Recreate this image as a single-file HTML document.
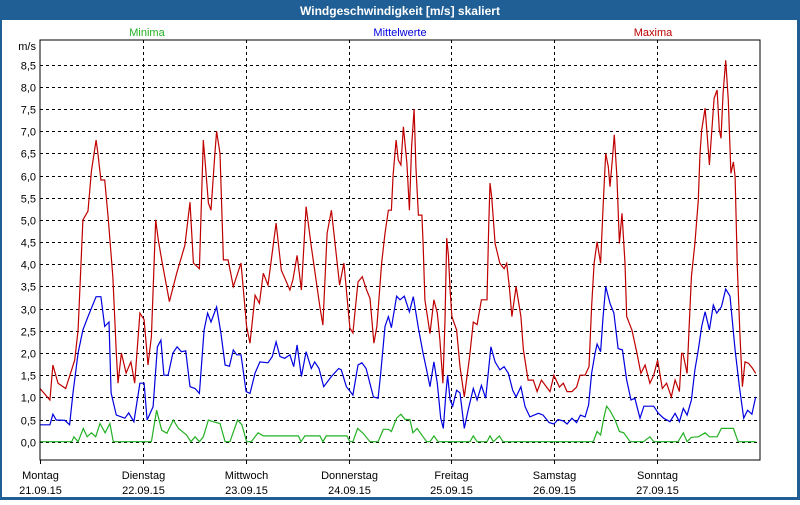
<!DOCTYPE html>
<html><head><meta charset="utf-8"><style>
html,body{margin:0;padding:0;background:#fff;}
body{width:800px;height:500px;overflow:hidden;font-family:"Liberation Sans",sans-serif;}
svg text{font-family:"Liberation Sans",sans-serif;}
</style></head><body>
<svg id="chart" width="800" height="500" xmlns="http://www.w3.org/2000/svg">
<rect x="0" y="0" width="800" height="500" fill="#1f5f96"/>
<rect x="2" y="20" width="795" height="477" fill="#ffffff"/>
<text x="400" y="15" fill="#ffffff" font-size="12" font-weight="bold" text-anchor="middle">Windgeschwindigkeit [m/s] skaliert</text>
<text x="147" y="36" fill="#22b022" font-size="11" text-anchor="middle">Minima</text>
<text x="400" y="36" fill="#0000dd" font-size="11" text-anchor="middle">Mittelwerte</text>
<text x="653" y="36" fill="#bb0000" font-size="11" text-anchor="middle">Maxima</text>
<text x="36" y="50" fill="#000" font-size="11" text-anchor="end">m/s</text>
<g id="grid"></g>
<g id="series"></g>
<rect x="40" y="40" width="720" height="420" fill="none" stroke="#000" stroke-width="1"/>
<g id="labels"></g>
</svg>
<script>
const yTicks = [0,0.5,1,1.5,2,2.5,3,3.5,4,4.5,5,5.5,6,6.5,7,7.5,8,8.5];
const yTickLabels = ["0,0","0,5","1,0","1,5","2,0","2,5","3,0","3,5","4,0","4,5","5,0","5,5","6,0","6,5","7,0","7,5","8,0","8,5"];
const dayNames = ["Montag","Dienstag","Mittwoch","Donnerstag","Freitag","Samstag","Sonntag"];
const dayDates = ["21.09.15","22.09.15","23.09.15","24.09.15","25.09.15","26.09.15","27.09.15"];

const maxH = [0,2.3,3,4.2,6,8.1,8.9,10,11.2,12,13.1,13.5,14.2,15.1,15.9,17,17.8,18.2,19,20.1,21.2,22.1,23.3,24.3,25.2,26,27,27.6,28.4,30.2,31.9,33.8,35,35.8,37.2,38.1,38.5,39.3,39.9,40.8,41.2,42,42.8,43.9,45.1,46.9,48.2,49,50.2,51.2,52.1,53.2,55.1,56.3,58.3,59,60,61,62.1,63.3,65.3,66,67,68,69.9,70.9,72.3,73,74.2,75.2,76.2,77,77.9,78.6,79.7,80.5,81.3,82,82.4,83.1,83.6,84.2,84.8,85.6,86.2,86.7,87.3,87.7,88.3,89.1,89.4,89.8,91,91.9,92.7,93.3,94,94.5,94.9,95.3,95.7,96.1,97.2,98,99,100.2,101.1,102,103,104.3,104.7,105,105.4,106.2,107.3,108.3,108.9,109.5,110.1,111.1,112.2,112.8,113.9,115.1,116,117,119,119.9,121.2,122.1,123,124.1,125.2,126,127.2,128.1,128.7,129.3,130,130.8,131.4,132,132.6,133,133.6,134,134.6,135.2,135.8,136.5,136.9,138.1,139.3,140.2,141.2,142.3,143.2,144.1,145.2,146.2,147.3,148.2,149.2,149.7,150,151,151.5,152,152.8,153.6,154,154.4,155.2,155.7,156.2,156.7,157.3,158,158.5,158.9,159.4,160,160.6,161.2,161.8,162.2,162.7,163.3,163.9,164.5,165.3,166.3,167];
const maxV = [1.2,0.94,1.73,1.32,1.2,1.84,2.52,5.0,5.2,6.1,6.8,6.5,5.9,5.9,5.07,3.7,2.0,1.32,2.0,1.55,1.8,1.32,2.9,2.75,1.73,2.37,5.0,4.55,4.1,3.16,3.8,4.43,5.4,4.03,3.9,6.8,6.35,5.38,5.22,6.5,7.0,6.5,4.1,4.1,3.5,4.03,2.6,2.22,3.3,3.12,3.8,3.53,4.93,3.87,3.42,3.65,4.2,3.42,5.3,4.4,3.04,2.63,4.7,5.22,3.53,4.03,2.56,2.45,3.6,3.72,3.42,3.23,2.22,2.6,4.02,4.7,5.22,5.22,6.01,6.8,6.35,6.24,7.1,6.28,5.22,6.65,7.5,6.2,5.11,5.11,4.47,3.2,2.44,3.2,2.9,2.29,1.32,2.74,4.59,4.2,3.42,2.82,2.52,1.69,1.01,1.88,2.7,2.64,3.2,3.2,4.85,5.83,5.52,4.47,4.02,3.9,4.02,3.5,2.82,3.5,2.82,2.07,1.39,1.39,1.13,1.39,1.13,1.5,1.23,1.32,1.13,1.13,1.23,1.5,1.5,1.69,3.04,4.02,4.51,4.02,5.3,6.5,6.2,5.75,6.43,6.92,5.98,4.47,5.15,4.02,2.82,2.52,1.99,1.54,1.73,1.32,1.5,1.84,1.2,1.32,1.01,1.39,1.13,1.99,1.99,1.54,2.67,3.72,4.47,5.45,6.5,7.03,7.52,6.88,6.24,6.95,7.74,7.93,7.03,6.84,7.86,8.6,7.7,6.05,6.31,5.98,3.95,2.44,1.24,1.8,1.77,1.65,1.54];

const meanH = [0,2.3,3,3.8,5.8,6.9,7.7,8.9,10,11.2,13.1,14.2,15.1,16.1,16.6,17.8,19.8,20.7,21.9,23.3,24.3,25,26.4,27.4,28.2,28.9,29.9,31,32,33,34,35,36.2,37.2,38.3,39.1,39.9,41.2,42.2,43.2,44.2,45.1,45.9,46.9,48.1,49,50.2,51.3,53.2,54.2,55.1,56,57.1,58.3,59.2,60,61,62.1,63.3,64.1,65.1,66.2,68,69.7,70.3,71.5,72.4,73,74.2,75.1,76.1,77.8,78.9,79.5,80.5,81.3,82,83.2,84,85,86.2,87.1,88.3,89.4,90.2,91,91.9,92.7,93.5,94.1,94.7,95.1,95.7,96.3,97.2,98,99,99.9,101.1,102,103,104,105.2,106.2,107.3,108.3,109.3,110.3,111.1,112.2,113.2,114.3,116.3,117.4,118.8,119.9,120.9,122.1,123,124.1,125.2,126.1,127.2,128,128.7,129.5,130,130.8,131.4,132,133,133.9,134.9,135.9,136.9,137.9,138.8,139.3,140,140.9,143.2,144.3,145.5,147,148.2,149.2,150.1,151,152,152.8,153.6,154.4,155.2,156.2,157.1,157.9,159,160,161,162.2,163.2,164.2,165.1,166.1,167];
const meanV = [0.38,0.38,0.62,0.49,0.48,0.38,1.1,2.0,2.52,2.82,3.27,3.27,2.6,2.7,1.1,0.6,0.53,0.65,0.45,1.32,1.32,0.49,0.79,2.14,2.29,1.5,1.5,2.0,2.14,2.03,2.05,1.24,1.2,1.09,2.52,2.9,2.7,3.04,2.45,1.73,1.7,2.07,1.96,1.96,1.13,1.09,1.55,1.8,1.78,1.92,2.25,1.92,1.88,1.96,1.69,2.18,1.47,2.03,1.65,1.8,1.65,1.24,1.47,1.65,1.62,1.24,1.13,1.05,1.73,1.78,1.65,1.01,0.98,1.54,2.6,2.82,2.57,3.28,3.2,3.28,2.93,3.27,2.56,1.99,1.62,1.24,1.8,1.32,0.53,0.3,1.09,1.5,0.94,0.8,1.16,1.1,0.3,0.71,1.2,0.94,1.27,0.98,2.14,1.8,1.62,1.69,1.54,1.16,1.01,1.24,0.79,0.56,0.64,0.6,0.43,0.4,0.5,0.47,0.4,0.53,0.43,0.6,0.56,0.83,1.54,1.99,2.2,2.03,2.82,3.5,3.12,2.9,2.1,2.07,1.39,0.94,0.98,0.79,0.53,0.8,0.8,0.64,0.53,0.45,0.64,0.45,0.75,0.6,0.94,1.62,2.07,2.6,2.93,2.52,3.08,2.9,3.04,3.44,3.28,2.07,1.24,0.53,0.71,0.62,1.01];

const minH = [0,7.4,7.9,8.9,10.1,11,12,13,14,15.2,16.3,17.1,26,27.2,28.4,29.6,31.1,32.3,34.2,35.2,36.2,37.2,38.1,39.3,40.4,42,43.2,44.3,46.1,47.1,48.2,49.3,50.9,52.1,60.3,60.9,61.8,65.3,66,66.8,71.6,72.3,73,74.1,75.4,77,78.9,80.1,81.3,82,83.2,84.2,85.2,86.3,87,88,89.4,90.2,91,91.9,92.9,100.3,101.1,102,104.3,105,105.8,107.2,108,129.1,130,130.8,131.6,132.2,133,134.2,135.2,136.2,137.7,140.8,142.3,143.2,148.9,150.1,151,152,153.6,155.2,156.2,158,159,161.8,162.9,167];
const minV = [0,0,0.11,0,0.3,0.11,0.2,0.11,0.41,0.2,0.41,0,0,0.71,0.26,0.19,0.49,0.3,0.15,0,0.11,0,0.11,0.49,0.45,0.41,0,0,0.49,0.38,0,0,0.2,0.13,0.13,0,0.13,0.13,0,0.13,0.13,0,0,0.3,0.19,0,0,0.28,0.28,0.23,0.53,0.62,0.5,0.5,0.2,0.3,0.11,0,0,0.13,0,0,0.13,0,0,0.13,0,0.13,0,0,0.23,0.15,0.56,0.8,0.7,0.49,0.23,0.2,0,0,0.11,0,0,0.2,0,0.1,0.11,0.2,0.11,0.11,0.3,0.3,0,0];

const NS = "http://www.w3.org/2000/svg";
const X0 = 40, X1 = 760, Y0 = 441.7, PER = 44.35, HOURS = 168;
function xScale(h){ return X0 + h * (X1 - X0) / HOURS; }
function yScale(v){ return Y0 - v * PER; }
function mk(tag, attrs){ const e = document.createElementNS(NS, tag); for (const k in attrs) e.setAttribute(k, attrs[k]); return e; }

const grid = document.getElementById('grid');
const labels = document.getElementById('labels');
yTicks.forEach((t, i) => {
  const y = Math.round(yScale(t)) + 0.5;
  const l = mk('line', {x1: X0, x2: X1, y1: y, y2: y, stroke: '#000', 'stroke-width': 1, 'stroke-dasharray': '3,3'});
  
  
  grid.appendChild(l);
  const tx = mk('text', {x: 36, y: y + 4, 'font-size': 11, 'text-anchor': 'end', fill: '#000'});
  tx.textContent = yTickLabels[i];
  
  
  labels.appendChild(tx);
});
dayNames.forEach((d, i) => {
  const x = Math.round(xScale(i * 24)) + 0.5;
  if (i > 0) {
    const l = mk('line', {x1: x, x2: x, y1: 40, y2: 460, stroke: '#000', 'stroke-width': 1, 'stroke-dasharray': '3,3'});
    
    
    grid.appendChild(l);
  }
  const tk = mk('line', {x1: x, x2: x, y1: 460, y2: 464, stroke: '#000', 'stroke-width': 1});
  
  
  labels.appendChild(tk);
  const t1 = mk('text', {x: x, y: 479, 'font-size': 11, 'text-anchor': 'middle', fill: '#000'});
  t1.textContent = d;
  
  
  labels.appendChild(t1);
  const t2 = mk('text', {x: x, y: 494, 'font-size': 11, 'text-anchor': 'middle', fill: '#000'});
  t2.textContent = dayDates[i];
  
  
  labels.appendChild(t2);
});

const series = document.getElementById('series');
function drawLine(hs, vs, color, name){
  const pts = hs.map((h, i) => xScale(h).toFixed(1) + ',' + yScale(vs[i]).toFixed(1)).join(' ');
  const p = mk('polyline', {points: pts, fill: 'none', stroke: color, 'stroke-width': 1.2, 'stroke-linejoin': 'miter'});
  
  
  series.appendChild(p);
}
drawLine(minH, minV, '#22b022', 'minima-line');
drawLine(meanH, meanV, '#0000e0', 'mittelwerte-line');
drawLine(maxH, maxV, '#c00000', 'maxima-line');
</script>
</body></html>
